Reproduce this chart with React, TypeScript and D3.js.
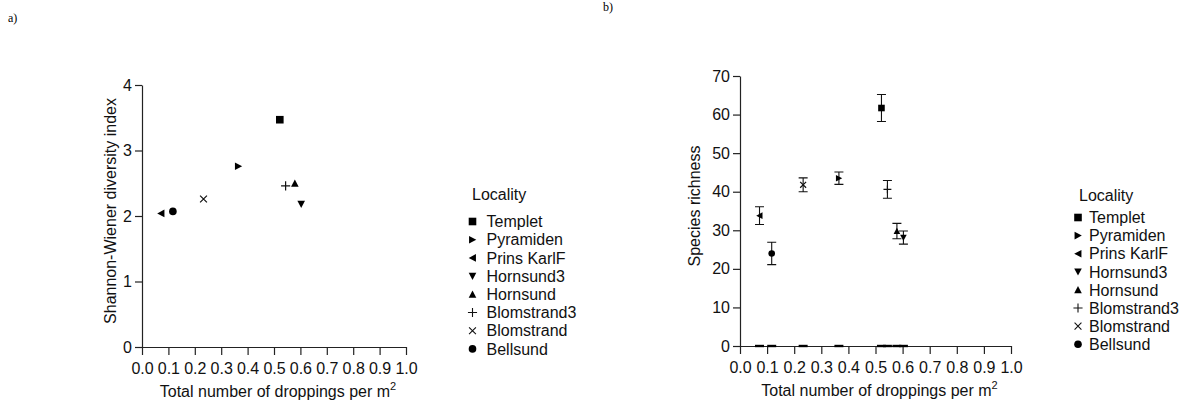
import React, { useRef, useEffect } from "react";
import * as d3 from "d3";

const localities = ["Templet", "Pyramiden", "Prins KarlF", "Hornsund3", "Hornsund", "Blomstrand3", "Blomstrand", "Bellsund"];
const shapes = ["square", "right", "left", "down", "up", "plus", "cross", "circle"];
// droppings per m2 (x)
const droppings = [0.522, 0.365, 0.072, 0.603, 0.579, 0.544, 0.233, 0.117];
const shannon = [3.47, 2.76, 2.04, 2.18, 2.5, 2.46, 2.26, 2.07];
const richness = [61.7, 43.5, 33.8, 28.1, 29.8, 40.6, 41.8, 24.0];
const richnessErr = [3.5, 1.6, 2.3, 1.7, 2.0, 2.3, 1.8, 2.9];
const xTicks = [0, 0.1, 0.2, 0.3, 0.4, 0.5, 0.6, 0.7, 0.8, 0.9, 1.0];
const shannonTicks = [0, 1, 2, 3, 4];
const richnessTicks = [0, 10, 20, 30, 40, 50, 60, 70];

const FONT = "'Liberation Sans', Arial, sans-serif";

// marker path centred on 0,0
function markerPath(shape: string, r: number) {
    const h = r * 0.9;
    switch (shape) {
        case "square": return `M${-r},${-r}H${r}V${r}H${-r}Z`;
        case "up": return `M0,${-r}L${r},${h}L${-r},${h}Z`;
        case "down": return `M0,${r}L${r},${-h}L${-r},${-h}Z`;
        case "right": return `M${r},0L${-h},${-r}L${-h},${r}Z`;
        case "left": return `M${-r},0L${h},${-r}L${h},${r}Z`;
        case "plus": return `M${-r * 1.2},0H${r * 1.2}M0,${-r * 1.2}V${r * 1.2}`;
        case "cross": return `M${-r * 0.9},${-r * 0.9}L${r * 0.9},${r * 0.9}M${-r * 0.9},${r * 0.9}L${r * 0.9},${-r * 0.9}`;
        default: return d3.symbol(d3.symbolCircle, Math.PI * r * r)()!;
    }
}
const isLine = (s: string) => s === "plus" || s === "cross";

const App = () => {
    const plot = useRef<SVGSVGElement>(null);
    const width = 1196, height = 403;

    useEffect(() => {
        const svg = d3.select(plot.current);
        svg.selectAll("*").remove();

        const drawPanel = (opts: any) => {
            const { x0, x1, y0, y1, domainY, ticksY, values, yTitle, titleX, err, r, legend } = opts;
            const x = d3.scaleLinear().domain([0, 1]).range([x0, x1]);
            const y = d3.scaleLinear().domain(domainY).range([y0, y1]);

            const gx = svg.append("g")
                .attr("transform", `translate(0,${y0})`)
                .call(d3.axisBottom(x).tickValues(xTicks).tickFormat(d3.format(".1f")).tickSize(8).tickSizeOuter(0).tickPadding(8));
            const gy = svg.append("g")
                .attr("transform", `translate(${x0},0)`)
                .call(d3.axisLeft(y).tickValues(ticksY).tickFormat(d3.format("d")).tickSize(7).tickSizeOuter(0).tickPadding(3));
            [gx, gy].forEach(g => {
                g.attr("font-family", FONT).attr("font-size", 16);
                g.selectAll("line, path").attr("stroke", "#222").attr("stroke-width", 1.2);
                g.selectAll("text").attr("fill", "#111");
            });

            // axis titles
            const xt = svg.append("text")
                .attr("x", (x0 + x1) / 2 + 4)
                .attr("y", y0 + 50)
                .attr("text-anchor", "middle")
                .attr("font-family", FONT).attr("font-size", 16).attr("fill", "#111")
                .text("Total number of droppings per m");
            xt.append("tspan").attr("dy", -7).attr("font-size", 11).text("2");

            svg.append("text")
                .attr("transform", `translate(${titleX},${(y0 + y1) / 2 - 5}) rotate(-90)`)
                .attr("text-anchor", "middle")
                .attr("font-family", FONT).attr("font-size", 16).attr("fill", "#111")
                .text(yTitle);

            // zero-level caps (panel b)
            if (err) {
                svg.append("g").selectAll("line")
                    .data(droppings)
                    .join("line")
                    .attr("x1", d => x(d) - 4.5).attr("x2", d => x(d) + 4.5)
                    .attr("y1", y(0)).attr("y2", y(0))
                    .attr("stroke", "#000").attr("stroke-width", 2.4);

                const eb = svg.append("g").selectAll("g")
                    .data(values.map((v: number, i: number) => ({ v, e: err[i], xv: droppings[i] })))
                    .join("g")
                    .attr("stroke", "#111").attr("stroke-width", 1.1).attr("fill", "none");
                eb.append("path")
                    .attr("d", (d: any) => {
                        const cx = x(d.xv), t = y(d.v + d.e), b = y(d.v - d.e);
                        return `M${cx - 4.5},${t}H${cx + 4.5}M${cx},${t}V${b}M${cx - 4.5},${b}H${cx + 4.5}`;
                    });
            }

            // markers
            svg.append("g").selectAll("path")
                .data(values.map((v: number, i: number) => ({ v, s: shapes[i], xv: droppings[i] })))
                .join("path")
                .attr("transform", (d: any) => `translate(${x(d.xv)},${y(d.v)})`)
                .attr("d", (d: any) => markerPath(d.s, r))
                .attr("fill", (d: any) => isLine(d.s) ? "none" : "#000")
                .attr("stroke", (d: any) => isLine(d.s) ? "#111" : "none")
                .attr("stroke-width", 1.2);

            // legend
            const lg = svg.append("g").attr("font-family", FONT).attr("font-size", 16).attr("fill", "#111");
            lg.append("text").attr("x", legend.tx).attr("y", legend.ty).text("Locality");
            const rows = lg.selectAll("g.row")
                .data(localities)
                .join("g")
                .attr("transform", (d, i) => `translate(${legend.sx},${legend.y0 + i * legend.dy})`);
            rows.append("path")
                .attr("d", (d, i) => markerPath(shapes[i], 3.8))
                .attr("fill", (d, i) => isLine(shapes[i]) ? "none" : "#000")
                .attr("stroke", (d, i) => isLine(shapes[i]) ? "#111" : "none")
                .attr("stroke-width", 1.1);
            rows.append("text")
                .attr("x", legend.gap)
                .attr("dy", "0.36em")
                .text(d => d);
        };

        drawPanel({
            x0: 142, x1: 406, y0: 347, y1: 85, domainY: [0, 4], ticksY: shannonTicks,
            values: shannon, yTitle: "Shannon-Wiener diversity index", titleX: 116, err: null, r: 3.8,
            legend: { tx: 472, ty: 200, sx: 472.5, y0: 221.5, dy: 18.2, gap: 14 }
        });
        drawPanel({
            x0: 740, x1: 1011, y0: 346, y1: 76, domainY: [0, 70], ticksY: richnessTicks,
            values: richness, yTitle: "Species richness", titleX: 700, err: richnessErr, r: 3.3,
            legend: { tx: 1079, ty: 201, sx: 1078, y0: 217.5, dy: 18.1, gap: 11 }
        });

        // panel letters
        svg.append("text").attr("x", 8).attr("y", 22).attr("font-family", "'Liberation Serif', serif").attr("font-size", 12).text("a)");
        svg.append("text").attr("x", 603).attr("y", 11).attr("font-family", "'Liberation Serif', serif").attr("font-size", 12).text("b)");
    });

    return (
        <svg ref={plot} width={width} height={height} style={{ position: "absolute", left: 0, top: 0, background: "#fff" }} />
    );
};

export default App;
